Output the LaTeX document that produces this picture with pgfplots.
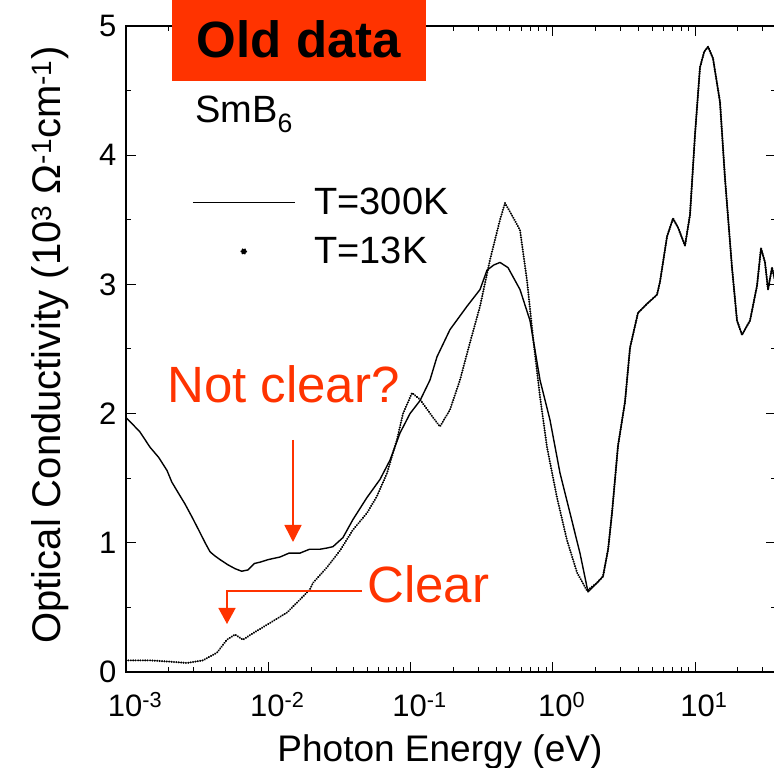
\documentclass[border=0pt]{standalone}
\usepackage{pgfplots}
\pgfplotsset{compat=1.18}
\usepackage{pgfplotstable}
\usetikzlibrary{arrows.meta}
\usepackage{fontspec}
\setmainfont{Liberation Sans}
\definecolor{redann}{RGB}{255,51,0}

\pgfplotstableread{
E s
0.001 1.97
0.00125 1.86
0.001475 1.74
0.0017 1.66
0.001942 1.56
0.0021 1.47
0.00232 1.39
0.0026 1.30
0.00291 1.20
0.00331 1.08
0.0036 1.00
0.00390 0.93
0.0042 0.90
0.00458 0.87
0.0052 0.83
0.00584 0.80
0.0065 0.78
0.00721 0.79
0.0080 0.84
0.00875 0.85
0.0100 0.87
0.0121 0.89
0.0140 0.92
0.0167 0.92
0.0195 0.95
0.0231 0.95
0.0260 0.96
0.0285 0.97
0.0335 1.04
0.0394 1.18
0.0494 1.35
0.0610 1.49
0.0718 1.64
0.0844 1.85
0.0992 2.00
0.1166 2.10
0.1371 2.26
0.1536 2.44
0.1895 2.65
0.2494 2.83
0.3081 2.96
0.3450 3.11
0.3850 3.15
0.4257 3.17
0.4846 3.13
0.5886 2.96
0.6920 2.72
0.8137 2.26
0.9565 1.95
1.1245 1.54
1.322 1.23
1.554 0.92
1.769 0.62
2.047 0.69
2.256 0.74
2.450 0.95
2.609 1.23
2.875 1.75
3.220 2.09
3.493 2.51
3.975 2.78
4.599 2.85
5.406 2.92
5.675 3.02
6.358 3.37
7.003 3.51
7.596 3.44
8.505 3.30
9.224 3.54
10.0 4.16
10.84 4.68
11.60 4.80
12.34 4.84
13.38 4.75
14.99 4.41
16.25 3.82
18.20 3.13
19.74 2.72
21.40 2.61
24.36 2.72
27.29 2.99
29.11 3.28
31.06 3.17
32.61 2.96
34.78 3.13
37.0 3.00
}\warm

\pgfplotstableread{
E s
0.001 0.09
0.001475 0.09
0.00204 0.08
0.00268 0.07
0.00348 0.09
0.00436 0.15
0.00513 0.25
0.00584 0.29
0.00665 0.25
0.00781 0.30
0.01029 0.38
0.01354 0.46
0.0167 0.56
0.01966 0.64
0.02064 0.69
0.02588 0.81
0.03194 0.94
0.0394 1.10
0.0494 1.23
0.0581 1.36
0.0684 1.54
0.0804 1.80
0.0886 2.00
0.1024 2.16
0.1166 2.11
0.1439 1.97
0.1612 1.90
0.1895 2.03
0.2228 2.26
0.2620 2.55
0.3081 2.83
0.3622 3.19
0.4257 3.50
0.4617 3.63
0.5256 3.52
0.5886 3.42
0.6592 3.03
0.7265 2.59
0.8137 2.13
0.9112 1.74
1.071 1.35
1.259 1.02
1.481 0.77
1.741 0.63
2.047 0.69
2.256 0.74
2.450 0.95
2.609 1.23
2.875 1.75
3.220 2.09
3.493 2.51
3.975 2.78
4.599 2.85
5.406 2.92
5.675 3.02
6.358 3.37
7.003 3.51
7.596 3.44
8.505 3.30
9.224 3.54
10.0 4.16
10.84 4.68
11.60 4.80
12.34 4.84
13.38 4.75
14.99 4.41
16.25 3.82
18.20 3.13
19.74 2.72
21.40 2.61
24.36 2.72
27.29 2.99
29.11 3.28
31.06 3.17
32.61 2.96
34.78 3.13
37.0 3.00
}\cold

\begin{document}
\begin{tikzpicture}
\useasboundingbox (-126pt,-96pt) rectangle (648pt,672pt);
\begin{axis}[
  at={(0pt,0pt)}, anchor=south west,
  scale only axis, width=650pt, height=646pt,
  xmode=log, xmin=1e-3, xmax=37.1, ymin=0, ymax=5,
  xtick={0.001,0.01,0.1,1,10},
  xticklabels={10\textsuperscript{-3},10\textsuperscript{-2},10\textsuperscript{-1},10\textsuperscript{0},10\textsuperscript{1}},
  minor xtick={0.002,0.003,0.004,0.005,0.006,0.007,0.008,0.009,0.02,0.03,0.04,0.05,0.06,0.07,0.08,0.09,0.2,0.3,0.4,0.5,0.6,0.7,0.8,0.9,2,3,4,5,6,7,8,9,20,30},
  ytick={0,1,2,3,4,5}, yticklabels={0,1,2,3,4,5},
  minor ytick={0.5,1.5,2.5,3.5,4.5},
  tick align=inside, major tick length=10pt, minor tick length=5pt,
  tick style={line width=1pt, black},
  axis line style={line width=1.5pt},
  ticklabel style={font=\fontsize{31}{36}\selectfont},
  xticklabel style={anchor=base, yshift=-45pt, xshift=9pt},
  yticklabel style={xshift=-6pt},
  xlabel={Photon Energy (eV)},
  ylabel={Optical Conductivity (10\textsuperscript{3} Ω\textsuperscript{-1}cm\textsuperscript{-1})},
  xlabel style={font=\fontsize{37}{42}\selectfont, at={(axis description cs:0.483,-0.124)}, anchor=center},
  ylabel style={font=\fontsize{40}{44}\selectfont, at={(axis description cs:-0.117,0.506)}, anchor=center},
  legend style={at={(axis description cs:0.1015,0.752)}, anchor=north west,
    draw=none, fill=none, font=\fontsize{38}{42}\selectfont, inner sep=0pt,
    row sep=17pt, /tikz/every odd column/.append style={column sep=17pt}},
  legend cell align=left,
]
\addplot[black, line width=1.4pt, line join=round,
  legend image code/.code={\draw[black, solid, line width=1.2pt] (0pt,0pt) -- (102pt,0pt);}]
  table[x=E, y=s] {\warm};
\addlegendentry{T=300K}
\addplot[black, line width=2.2pt, line cap=round, dash pattern=on 0.1pt off 2.3pt,
  legend image code/.code={\path[draw=none] (0pt,0pt) -- (102pt,0pt); \fill[black] (51pt,0pt) circle (2.4pt);}]
  table[x=E, y=s] {\cold};
\addlegendentry{T=13K}
\end{axis}
\fill[redann] (46pt,591pt) rectangle (300pt,672pt);
\node[anchor=base, inner sep=0pt, font=\fontsize{51}{56}\selectfont\bfseries] at (173pt,614pt) {Old data};
\node[anchor=base west, inner sep=0pt, font=\fontsize{38}{42}\selectfont] at (69pt,549pt) {SmB\textsubscript{6}};
\node[anchor=base west, inner sep=0pt, text=redann, font=\fontsize{51}{56}\selectfont] at (41pt,269pt) {Not clear?};
\node[anchor=base west, inner sep=0pt, text=redann, font=\fontsize{51}{56}\selectfont] at (241pt,69pt) {Clear};
\draw[redann, line width=1.5pt, -{Triangle[width=17pt,length=17pt]}] (167pt,232pt) -- (167pt,130pt);
\draw[redann, line width=1.5pt, -{Triangle[width=17pt,length=16pt]}] (236pt,81pt) -- (101pt,81pt) -- (101pt,48pt);
\end{tikzpicture}
\end{document}
